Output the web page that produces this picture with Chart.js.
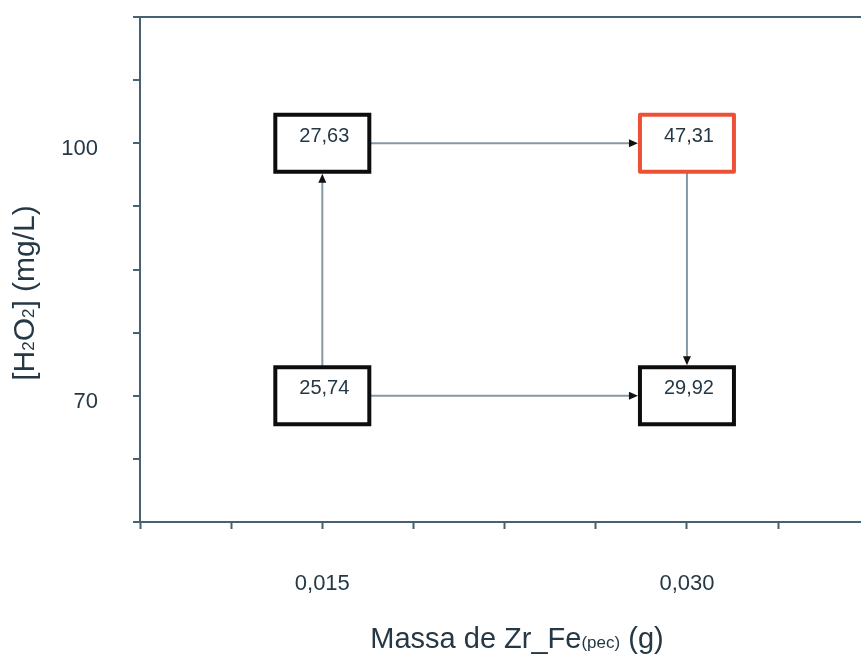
<!DOCTYPE html>
<html>
<head>
<meta charset="utf-8">
<script src="https://cdn.jsdelivr.net/npm/chart.js@4/dist/chart.umd.min.js"></script>
<style>
  html, body { margin: 0; padding: 0; background: #fff; }
  #wrap { width: 861px; height: 657px; position: relative; }
</style>
</head>
<body>
<div id="wrap"><canvas id="myChart"></canvas></div>
<script>
  // valores
  const massas = [0.015, 0.015, 0.030, 0.030];
  const concH2O2 = [70, 100, 70, 100];
  const resultados = ['25,74', '27,63', '29,92', '47,31'];
  const destaque = [false, false, false, true];
  // setas: [de, para]
  const setas = [[0, 1], [1, 3], [3, 2], [0, 2]];

  const xTickLabels = { '0.015': '0,015', '0.03': '0,030' };
  const yTickLabels = { '70': '70', '100': '100' };

  const FONT = '"Liberation Sans", Arial, sans-serif';
  const TEXT_COLOR = '#253846';
  const AXIS_COLOR = '#476170';

  const boxW = 94, boxH = 57;

  function labelFor(map, value) {
    const k = Object.keys(map).find(key => Math.abs(parseFloat(key) - value) < 1e-6);
    return k ? map[k] : '';
  }

  function drawRich(ctx, parts, size) {
    // mede e desenha texto com subscrito, centrado em (0,0)
    let total = 0;
    parts.forEach(p => {
      ctx.font = `${p.sub ? Math.round(size * 0.58) : size}px ${FONT}`;
      p.w = ctx.measureText(p.t).width;
      total += p.w;
    });
    let x = -total / 2;
    parts.forEach(p => {
      ctx.font = `${p.sub ? Math.round(size * 0.58) : size}px ${FONT}`;
      ctx.fillText(p.t, x, p.sub ? size * 0.12 : 0);
      x += p.w;
    });
  }

  const boxesPlugin = {
    id: 'boxes',
    afterDatasetsDraw(chart) {
      const ctx = chart.ctx;
      const meta = chart.getDatasetMeta(0);
      const pts = meta.data.map(el => ({ x: el.x, y: el.y }));

      // setas
      ctx.save();
      setas.forEach(([a, b]) => {
        const p = pts[a], q = pts[b];
        const dx = Math.sign(q.x - p.x), dy = Math.sign(q.y - p.y);
        const sx = p.x + dx * (boxW / 2 + 1), sy = p.y + dy * (boxH / 2 + 1);
        const ex = q.x - dx * (boxW / 2 + 2), ey = q.y - dy * (boxH / 2 + 2);
        ctx.strokeStyle = '#8498a6';
        ctx.lineWidth = 2;
        ctx.beginPath();
        ctx.moveTo(sx, sy);
        ctx.lineTo(ex - dx * 6, ey - dy * 6);
        ctx.stroke();
        // ponta
        ctx.fillStyle = '#111';
        ctx.beginPath();
        ctx.moveTo(ex, ey);
        ctx.lineTo(ex - dx * 9 - dy * 4, ey - dy * 9 - dx * 4);
        ctx.lineTo(ex - dx * 9 + dy * 4, ey - dy * 9 + dx * 4);
        ctx.closePath();
        ctx.fill();
      });

      // caixas
      pts.forEach((p, i) => {
        ctx.fillStyle = '#fff';
        ctx.fillRect(p.x - boxW / 2, p.y - boxH / 2, boxW, boxH);
        ctx.strokeStyle = destaque[i] ? '#ec5138' : '#0d0d0d';
        ctx.lineWidth = 4;
        ctx.lineJoin = destaque[i] ? 'round' : 'miter';
        ctx.strokeRect(p.x - boxW / 2, p.y - boxH / 2, boxW, boxH);
        ctx.fillStyle = TEXT_COLOR;
        ctx.font = `20px ${FONT}`;
        ctx.textAlign = 'center';
        ctx.textBaseline = 'middle';
        ctx.fillText(resultados[i], p.x + 2, p.y - 7);
      });
      ctx.restore();
    },
    afterDraw(chart) {
      const ctx = chart.ctx;
      ctx.save();
      ctx.fillStyle = TEXT_COLOR;
      ctx.textAlign = 'left';
      ctx.textBaseline = 'middle';
      // título do eixo x
      ctx.translate(517, 640);
      drawRich(ctx, [{ t: 'Massa de Zr_Fe' }, { t: '(pec)', sub: true }, { t: ' (g)' }], 29);
      ctx.restore();
      // título do eixo y
      ctx.save();
      ctx.fillStyle = TEXT_COLOR;
      ctx.textAlign = 'left';
      ctx.textBaseline = 'middle';
      ctx.translate(26, 293);
      ctx.rotate(-Math.PI / 2);
      drawRich(ctx, [{ t: '[H' }, { t: '2', sub: true }, { t: 'O' }, { t: '2', sub: true }, { t: '] (mg/L)' }], 30);
      ctx.restore();
    }
  };

  const ctx = document.getElementById('myChart').getContext('2d');
  const myChart = new Chart(ctx, {
    type: 'scatter',
    data: {
      datasets: [{
        label: 'Resultados',
        data: massas.map((m, i) => ({ x: m, y: concH2O2[i] })),
        pointRadius: 0,
        pointHoverRadius: 0,
        showLine: false
      }]
    },
    options: {
      responsive: true,
      maintainAspectRatio: false,
      animation: false,
      events: [],
      layout: { padding: { top: 17, right: 0, left: 0, bottom: 0 } },
      plugins: {
        legend: { display: false },
        tooltip: { enabled: false }
      },
      scales: {
        x: {
          type: 'linear',
          position: 'bottom',
          min: 0.0075,
          max: 0.03716,
          afterFit: scale => {
            scale.height = 135;
            scale.paddingLeft = 0;
            scale.paddingRight = 0;
          },
          border: { display: true, color: AXIS_COLOR, width: 2 },
          grid: { drawOnChartArea: false, drawTicks: true, tickLength: 7, tickColor: AXIS_COLOR, tickWidth: 2 },
          ticks: {
            stepSize: 0.00375,
            includeBounds: false,
            autoSkip: false,
            maxRotation: 0,
            padding: 42,
            color: TEXT_COLOR,
            font: { family: FONT, size: 22 },
            callback: value => labelFor(xTickLabels, value)
          }
        },
        y: {
          type: 'linear',
          min: 55,
          max: 115,
          afterFit: scale => {
            scale.width = 140;
            scale.paddingTop = 0;
            scale.paddingBottom = 0;
          },
          border: { display: true, color: AXIS_COLOR, width: 2 },
          grid: {
            // só a linha do topo aparece dentro da área
            drawOnChartArea: true,
            color: c => (c.tick && c.tick.value === 115 ? AXIS_COLOR : 'rgba(0,0,0,0)'),
            lineWidth: c => (c.tick && c.tick.value === 115 ? 2 : 0),
            drawTicks: true,
            tickLength: 7,
            tickColor: AXIS_COLOR,
            tickWidth: 2
          },
          ticks: {
            stepSize: 7.5,
            autoSkip: false,
            padding: 35,
            labelOffset: 6,
            color: TEXT_COLOR,
            font: { family: FONT, size: 22 },
            callback: value => labelFor(yTickLabels, value)
          }
        }
      }
    },
    plugins: [boxesPlugin]
  });
</script>
</body>
</html>
